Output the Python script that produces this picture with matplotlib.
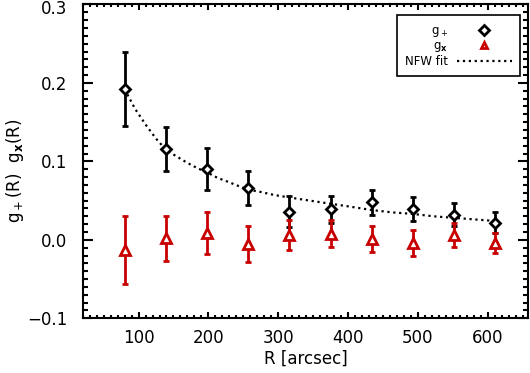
import numpy as np
import matplotlib.pyplot as plt
from matplotlib.ticker import MultipleLocator
from matplotlib.transforms import ScaledTranslation

# measured points
R = [80, 139, 198, 257, 316, 375, 434, 493, 552, 611]
g_plus = [0.192, 0.116, 0.090, 0.066, 0.036, 0.039, 0.048, 0.039, 0.032, 0.022]
g_plus_err = [0.047, 0.028, 0.027, 0.022, 0.020, 0.017, 0.016, 0.015, 0.015, 0.013]
g_cross = [-0.013, 0.002, 0.009, -0.005, 0.006, 0.008, 0.001, -0.004, 0.006, -0.004]
g_cross_err = [0.043, 0.029, 0.027, 0.023, 0.019, 0.017, 0.016, 0.016, 0.015, 0.013]

# NFW fit curve
R_fit = [80, 95, 110, 125, 139, 155, 170, 185, 198, 213, 228, 242, 257, 275, 295,
         316, 345, 375, 405, 434, 463, 493, 522, 552, 581, 611]
g_fit = [0.192, 0.167, 0.147, 0.129, 0.115, 0.106, 0.098, 0.091, 0.086, 0.079, 0.074,
         0.069, 0.064, 0.061, 0.057, 0.054, 0.050, 0.046, 0.042, 0.038, 0.035, 0.033,
         0.030, 0.028, 0.026, 0.024]

red = '#c80000'

fig = plt.figure(figsize=(5.3, 3.73), dpi=100)
ax = fig.add_axes([0.156, 0.1467, 0.8408, 0.8413])

ax.plot(R_fit, g_fit, ':', color='k', lw=1.6, label='NFW fit', zorder=2)
ax.errorbar(R, g_plus, yerr=g_plus_err, fmt='none', ecolor='k', elinewidth=2,
            capsize=2.2, capthick=2, zorder=3)
ax.errorbar(R, g_cross, yerr=g_cross_err, fmt='none', ecolor=red, elinewidth=2,
            capsize=2.2, capthick=2, zorder=3)
h1, = ax.plot(R, g_plus, 'D', ms=5, mfc='white', mec='k', mew=2, ls='none', zorder=4)
h2, = ax.plot(R, g_cross, '^', ms=7, mfc='white', mec=red, mew=2, ls='none', zorder=4)

ax.set_xlim(20, 658)
ax.set_ylim(-0.1, 0.3)
ax.xaxis.set_major_locator(MultipleLocator(100))
ax.xaxis.set_minor_locator(MultipleLocator(10))
ax.yaxis.set_major_locator(MultipleLocator(0.1))
ax.yaxis.set_minor_locator(MultipleLocator(0.01))
ax.yaxis.set_major_formatter(plt.FuncFormatter(lambda v, p: f'{v:.1f}'.replace('-', '\u2212')))

ax.tick_params(which='both', direction='in', top=True, right=True, width=1.5, labelsize=12)
ax.tick_params(axis='x', which='major', length=4.5, pad=7.5)
ax.tick_params(axis='x', which='minor', length=2.2)
ax.tick_params(axis='y', which='major', length=7.5, pad=11)
ax.tick_params(axis='y', which='minor', length=3.7)
for s in ax.spines.values():
    s.set_linewidth(1.5)

ax.set_xlabel('R [arcsec]', fontsize=12)
ax.xaxis.set_label_coords(0.5, -0.130, transform=ax.transAxes)
ax.xaxis.label.set_va('center')
ax.set_ylabel(r'g$_+$(R)  g$_\mathbf{x}$(R)', fontsize=12)
ax.yaxis.set_label_coords(-0.152, 0.47, transform=ax.transAxes)
ax.yaxis.label.set_va('center')

leg_line, = ax.plot([], [], ':', color='k', lw=1.6)
leg = ax.legend([h1, h2, leg_line], [r'g$_+$', r'g$_\mathbf{x}$', 'NFW fit'],
                loc='upper right', bbox_to_anchor=(0.981, 0.965), borderaxespad=0,
                markerfirst=False, fontsize=8.5, handlelength=4.6, handletextpad=0.8,
                labelspacing=0.05, borderpad=0.7, fancybox=False, framealpha=1,
                edgecolor='k', numpoints=1)
leg.get_frame().set_linewidth(1.2)
for h in leg.legend_handles[:2]:
    h.set_markersize(5)

# keep the top "0.3" label inside the figure
fig.canvas.draw()
shift = ScaledTranslation(0, -0.025, fig.dpi_scale_trans)
for tick in ax.yaxis.get_major_ticks():
    if tick.label1.get_text() == '0.3':
        tick.label1.set_transform(tick.label1.get_transform() + shift)

fig.savefig('out.png', dpi=100)
